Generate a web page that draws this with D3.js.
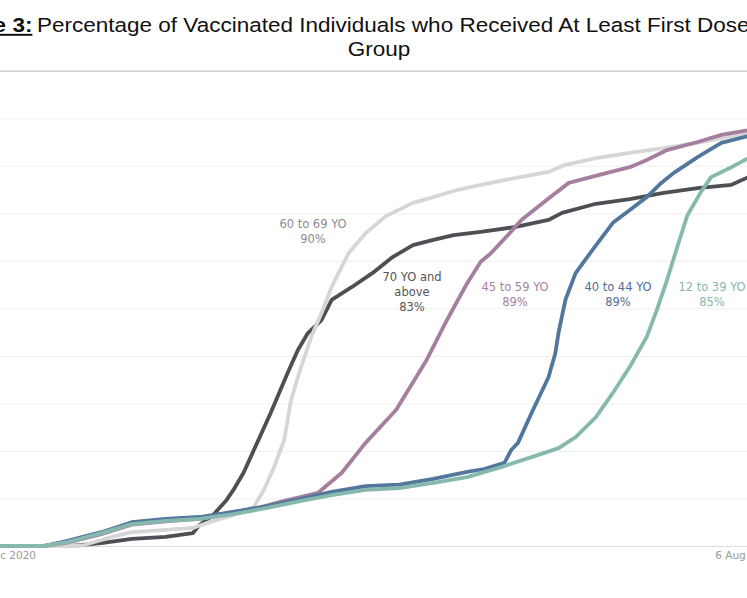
<!DOCTYPE html>
<html>
<head>
<meta charset="utf-8">
<script src="https://cdn.jsdelivr.net/npm/d3@7"></script>
<style>
  body { margin: 0; background: #fff; }
  svg { display: block; }
</style>
</head>
<body>
<div id="chart"></div>
<script>
// values: [date, % with at least first dose]
const age70plus = [
  ["2020-12-29", 0], ["2021-01-19", 0], ["2021-01-28", 0.6], ["2021-02-06", 1.5],
  ["2021-02-16", 1.9], ["2021-02-24", 2.7], ["2021-02-26", 4.4], ["2021-03-02", 6.5],
  ["2021-03-06", 9.7], ["2021-03-08", 11.8], ["2021-03-11", 15.4], ["2021-03-15", 21.7],
  ["2021-03-19", 28.0], ["2021-03-24", 36.4], ["2021-03-27", 41.2], ["2021-03-30", 44.8],
  ["2021-04-03", 47.5], ["2021-04-06", 51.8], ["2021-04-12", 54.5], ["2021-04-18", 57.4],
  ["2021-04-24", 60.8], ["2021-04-30", 63.3], ["2021-05-06", 64.4], ["2021-05-12", 65.4],
  ["2021-05-20", 66.1], ["2021-05-30", 67.1], ["2021-06-09", 68.6], ["2021-06-13", 70.1],
  ["2021-06-23", 72.0], ["2021-07-03", 73.0], ["2021-07-13", 74.3], ["2021-07-23", 75.3],
  ["2021-08-02", 76.0], ["2021-08-07", 77.6]
];
const age60to69 = [
  ["2020-12-29", 0], ["2021-01-20", 0], ["2021-01-23", 0.2], ["2021-01-31", 1.9],
  ["2021-02-06", 2.9], ["2021-02-16", 3.4], ["2021-02-24", 3.8], ["2021-02-28", 4.8],
  ["2021-03-08", 6.5], ["2021-03-14", 8.2], ["2021-03-17", 11.8], ["2021-03-20", 16.6],
  ["2021-03-23", 22.3], ["2021-03-25", 30.7], ["2021-03-28", 37.7], ["2021-03-31", 44.0],
  ["2021-04-03", 49.0], ["2021-04-06", 54.5], ["2021-04-11", 61.6], ["2021-04-16", 65.8],
  ["2021-04-22", 69.4], ["2021-04-30", 72.2], ["2021-05-06", 73.4], ["2021-05-13", 74.9],
  ["2021-05-20", 76.0], ["2021-05-30", 77.4], ["2021-06-09", 78.7], ["2021-06-14", 80.2],
  ["2021-06-23", 81.6], ["2021-07-03", 82.7], ["2021-07-13", 83.7], ["2021-07-23", 84.8],
  ["2021-07-30", 85.8], ["2021-08-07", 87.1]
];
const age45to59 = [
  ["2020-12-29", 0], ["2021-01-11", 0], ["2021-01-18", 0.7], ["2021-01-28", 2.5],
  ["2021-02-06", 4.5], ["2021-02-16", 5.2], ["2021-02-26", 5.7], ["2021-03-08", 7.2],
  ["2021-03-13", 7.6], ["2021-03-23", 9.5], ["2021-04-02", 11.2], ["2021-04-09", 15.4],
  ["2021-04-16", 21.7], ["2021-04-25", 28.6], ["2021-05-04", 39.1], ["2021-05-10", 47.5],
  ["2021-05-16", 55.3], ["2021-05-20", 59.8], ["2021-05-23", 61.6], ["2021-05-28", 65.4],
  ["2021-06-01", 68.6], ["2021-06-09", 73.1], ["2021-06-15", 76.4], ["2021-06-24", 78.1],
  ["2021-07-03", 79.7], ["2021-07-08", 81.2], ["2021-07-14", 83.3], ["2021-07-23", 85.0],
  ["2021-07-30", 86.5], ["2021-08-07", 87.5]
];
const age40to44 = [
  ["2020-12-29", 0], ["2021-01-11", 0], ["2021-01-18", 1.1], ["2021-01-28", 2.9],
  ["2021-02-06", 5.0], ["2021-02-16", 5.7], ["2021-02-26", 6.1], ["2021-03-08", 7.2],
  ["2021-03-18", 8.4], ["2021-03-28", 9.9], ["2021-04-06", 11.4], ["2021-04-16", 12.6],
  ["2021-04-26", 12.9], ["2021-05-06", 14.1], ["2021-05-16", 15.6], ["2021-05-21", 16.2],
  ["2021-05-27", 17.5], ["2021-05-29", 20.2], ["2021-05-31", 21.7], ["2021-06-04", 28.0],
  ["2021-06-09", 35.5], ["2021-06-11", 40.5], ["2021-06-12", 45.0], ["2021-06-14", 51.8],
  ["2021-06-17", 57.4], ["2021-06-22", 62.3], ["2021-06-28", 68.0], ["2021-07-03", 70.7],
  ["2021-07-08", 73.4], ["2021-07-12", 76.2], ["2021-07-16", 78.5], ["2021-07-23", 81.8],
  ["2021-07-30", 84.8], ["2021-08-07", 86.3]
];
const age12to39 = [
  ["2020-12-29", 0], ["2021-01-11", 0], ["2021-01-18", 0.8], ["2021-01-28", 2.7],
  ["2021-02-06", 4.6], ["2021-02-16", 5.3], ["2021-02-26", 5.7], ["2021-03-08", 6.7],
  ["2021-03-18", 8.0], ["2021-03-28", 9.5], ["2021-04-06", 10.7], ["2021-04-16", 11.8],
  ["2021-04-26", 12.2], ["2021-05-06", 13.3], ["2021-05-16", 14.5], ["2021-05-26", 16.6],
  ["2021-06-04", 18.7], ["2021-06-12", 20.6], ["2021-06-17", 22.9], ["2021-06-23", 27.1],
  ["2021-06-28", 32.2], ["2021-07-03", 37.7], ["2021-07-08", 44.0], ["2021-07-11", 49.7],
  ["2021-07-14", 56.0], ["2021-07-17", 62.9], ["2021-07-20", 69.6], ["2021-07-24", 74.5],
  ["2021-07-27", 77.6], ["2021-08-02", 79.7], ["2021-08-07", 81.6]
];

const groupNames = ["70 YO and above", "60 to 69 YO", "45 to 59 YO", "40 to 44 YO", "12 to 39 YO"];
const finalShares = ["83%", "90%", "89%", "89%", "85%"];
const groupColors = ["#4c5055", "#d6d6d6", "#a47f9f", "#52779d", "#87b8ae"];
const yTicks = [0, 10, 20, 30, 40, 50, 60, 70, 80, 90, 100];
const xTickDates = ["2020-12-30", "2021-08-06"];
const xTickLabels = ["30 Dec 2020", "6 Aug 2021"];

const series = [age70plus, age60to69, age45to59, age40to44, age12to39];
const parse = d3.timeParse("%Y-%m-%d");

const width = 747, height = 598;
const svg = d3.select("#chart").append("svg")
	.attr("width", width)
	.attr("height", height);

// title: the reference face is stretched sideways, so scale it in x
const titleFont = "'Liberation Sans', Arial, sans-serif";
const stretch = 1.155;
const line1 = svg.append("g").attr("transform", "translate(37,0) scale(" + stretch + ",1)");
line1.append("text")
	.attr("x", -4)
	.attr("y", 32)
	.attr("text-anchor", "end")
	.style("font-family", titleFont)
	.style("font-size", "19.5px")
	.style("font-weight", "bold")
	.style("text-decoration", "underline")
	.style("fill", "#111")
	.text("Figure 3:");
line1.append("text")
	.attr("x", 0)
	.attr("y", 32)
	.style("font-family", titleFont)
	.style("font-size", "19.5px")
	.style("fill", "#111")
	.text("Percentage of Vaccinated Individuals who Received At Least First Dose by Age");
svg.append("g").attr("transform", "translate(379,0) scale(" + stretch + ",1)")
	.append("text")
	.attr("x", 0)
	.attr("y", 56)
	.attr("text-anchor", "middle")
	.style("font-family", titleFont)
	.style("font-size", "19.5px")
	.style("fill", "#111")
	.text("Group");

const x = d3.scaleTime()
	.domain([parse("2020-12-30"), parse("2021-08-06")])
	.range([3, 745]);
const y = d3.scaleLinear()
	.domain([0, 100])
	.range([546, 70.7]);

// gridlines
const grid = svg.append("g")
	.call(d3.axisLeft(y).tickValues(yTicks).tickSize(-width * 2).tickFormat(""));
grid.select(".domain").remove();
grid.selectAll(".tick line")
	.attr("stroke", d => d === 100 ? "#cfcfcf" : d === 0 ? "#dcdcdc" : "#f0f0f0")
	.attr("stroke-width", d => d === 100 ? 1.5 : 1);

// x axis labels
const xAxis = svg.append("g")
	.attr("transform", "translate(0," + y(0) + ")")
	.call(d3.axisBottom(x)
		.tickValues(xTickDates.map(parse))
		.tickSize(0)
		.tickFormat((d, i) => xTickLabels[i]));
xAxis.select(".domain").remove();
xAxis.selectAll("text")
	.attr("dy", "0.95em")
	.attr("dx", (d, i) => i === 0 ? -1 : 0)
	.style("font-family", "'DejaVu Sans', sans-serif")
	.style("font-size", "10.5px")
	.style("fill", "#999999");

const line = d3.line()
	.x(d => x(parse(d[0])))
	.y(d => y(d[1]));

svg.append("g").selectAll("path")
	.data(series)
	.join("path")
	.attr("d", line)
	.attr("fill", "none")
	.attr("stroke", (d, i) => groupColors[i])
	.attr("stroke-width", 3.8)
	.attr("stroke-linejoin", "round")
	.attr("stroke-linecap", "round");

// end-value labels
const labelSpots = [
	{ x: 412, y: 281, lines: ["70 YO and", "above"] },
	{ x: 313, y: 228, lines: ["60 to 69 YO"] },
	{ x: 515, y: 291, lines: ["45 to 59 YO"] },
	{ x: 618, y: 291, lines: ["40 to 44 YO"] },
	{ x: 712, y: 291, lines: ["12 to 39 YO"] }
];
const labelTextColors = ["#555555", "#8c8c8c", "#a47f9f", "#4f6f95", "#87b8ae"];
labelSpots.forEach((s, i) => {
	const t = svg.append("text")
		.attr("text-anchor", "middle")
		.style("font-family", "'DejaVu Sans', sans-serif")
		.style("font-size", "11.5px")
		.style("fill", labelTextColors[i]);
	s.lines.concat([finalShares[i]]).forEach((txt, j) => {
		t.append("tspan")
			.attr("x", s.x)
			.attr("y", s.y + j * 15)
			.text(txt);
	});
});
</script>
</body>
</html>
